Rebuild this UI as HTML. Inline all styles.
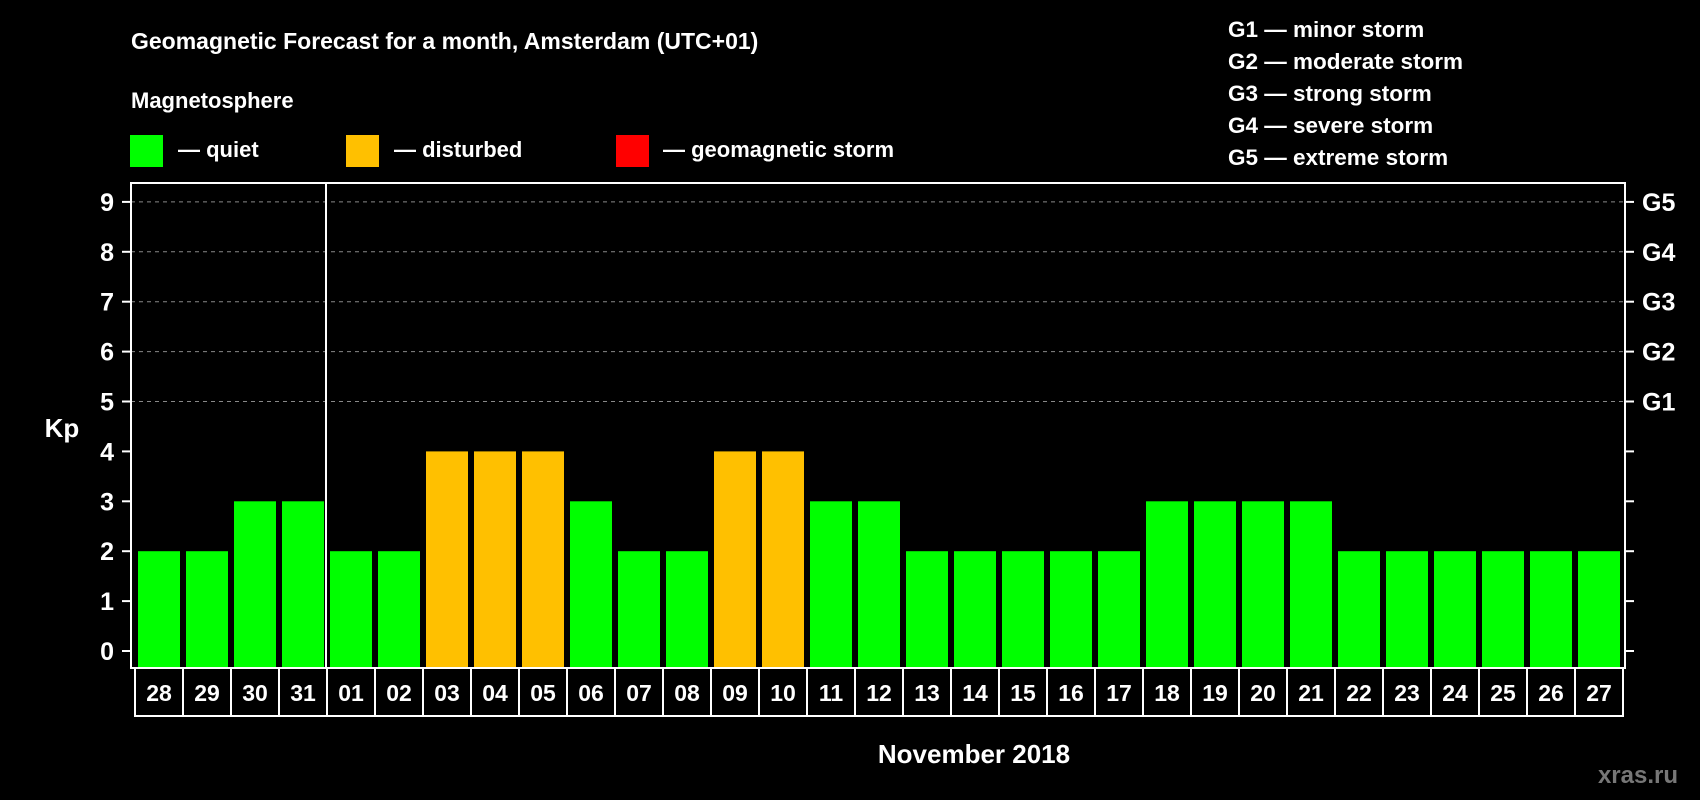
<!DOCTYPE html>
<html><head><meta charset="utf-8"><style>
html,body{margin:0;padding:0;background:#000;}
svg{display:block;font-family:"Liberation Sans",Arial,sans-serif;font-weight:bold;}
</style></head><body>
<svg id="chart" width="1700" height="800" viewBox="0 0 1700 800" xmlns="http://www.w3.org/2000/svg">
<rect width="1700" height="800" fill="#000"/>
<text x="131" y="49" fill="#fff" font-size="23">Geomagnetic Forecast for a month, Amsterdam (UTC+01)</text>
<text x="131" y="108" fill="#fff" font-size="22">Magnetosphere</text>
<rect x="130" y="135" width="33" height="32" fill="#00ff00"/>
<text x="178" y="157" fill="#fff" font-size="22">— quiet</text>
<rect x="346" y="135" width="33" height="32" fill="#ffc000"/>
<text x="394" y="157" fill="#fff" font-size="22">— disturbed</text>
<rect x="616" y="135" width="33" height="32" fill="#ff0000"/>
<text x="663" y="157" fill="#fff" font-size="22">— geomagnetic storm</text>
<g fill="#fff" font-size="22.5">
<text x="1228" y="37">G1 — minor storm</text>
<text x="1228" y="69">G2 — moderate storm</text>
<text x="1228" y="101">G3 — strong storm</text>
<text x="1228" y="133">G4 — severe storm</text>
<text x="1228" y="165">G5 — extreme storm</text>
</g>
<g id="grid"></g>
<g id="bars"></g>
<g id="axes"></g>
<text x="62" y="437" fill="#fff" font-size="26" text-anchor="middle">Kp</text>
<text x="974" y="763" fill="#fff" font-size="26" text-anchor="middle">November 2018</text>
<text x="1678" y="783" fill="#777" font-size="24" text-anchor="end">xras.ru</text>
</svg>
<script>
const days = ["28","29","30","31","01","02","03","04","05","06","07","08","09","10","11","12","13","14","15","16","17","18","19","20","21","22","23","24","25","26","27"];
const kpValues = [2,2,3,3,2,2,4,4,4,3,2,2,4,4,3,3,2,2,2,2,2,3,3,3,3,2,2,2,2,2,2];
const yTicks = [0,1,2,3,4,5,6,7,8,9];
const stormLabels = ["G1","G2","G3","G4","G5"];
const stormLevels = [5,6,7,8,9];

const NS = "http://www.w3.org/2000/svg";
const plotL = 131, plotR = 1625, plotT = 183, plotB = 668;
const cellL = 135, cellW = 48;
const y0 = 651, unit = 49.9;
function yScale(v){ return y0 - v * unit; }
function xScale(i){ return cellL + i * cellW; }
function mk(tag, attrs, parent){ const e = document.createElementNS(NS, tag); for (const k in attrs) e.setAttribute(k, attrs[k]); parent.appendChild(e); return e; }

const grid = document.getElementById('grid');
const bars = document.getElementById('bars');
const axes = document.getElementById('axes');

stormLevels.forEach((lv, i) => {
  const y = yScale(lv);
  const g = mk('line', {x1: plotL, x2: plotR, y1: y, y2: y, stroke: '#888', 'stroke-width': 1, 'stroke-dasharray': '4,4'}, grid);
  
  
  const t = mk('text', {x: 1642, y: y + 9, fill: '#fff', 'font-size': 25}, axes);
  t.textContent = stormLabels[i];
  
  
});

kpValues.forEach((v, i) => {
  const color = v >= 5 ? '#ff0000' : (v >= 4 ? '#ffc000' : '#00ff00');
  const x = xScale(i) + 3;
  const r = mk('rect', {x: x, y: yScale(v), width: 42, height: plotB - 1 - yScale(v), fill: color}, bars);
  
  
  const c = mk('rect', {x: xScale(i), y: plotB, width: cellW, height: 48, fill: 'none', stroke: '#fff', 'stroke-width': 2}, axes);
  
  
  const t = mk('text', {x: xScale(i) + cellW / 2, y: plotB + 33, fill: '#fff', 'font-size': 23, 'text-anchor': 'middle'}, axes);
  t.textContent = days[i];
  
  
});

const frame = mk('rect', {x: plotL, y: plotT, width: plotR - plotL, height: plotB - plotT, fill: 'none', stroke: '#fff', 'stroke-width': 2}, axes);


const monthDiv = mk('line', {x1: xScale(4) - 1, x2: xScale(4) - 1, y1: plotT, y2: plotB, stroke: '#fff', 'stroke-width': 2}, axes);



yTicks.forEach(v => {
  const y = yScale(v);
  const tl = mk('line', {x1: 122, x2: plotL, y1: y, y2: y, stroke: '#fff', 'stroke-width': 2}, axes);
  
  
  const tr = mk('line', {x1: plotR, x2: plotR + 9, y1: y, y2: y, stroke: '#fff', 'stroke-width': 2}, axes);
  
  
  const t = mk('text', {x: 114, y: y + 9, fill: '#fff', 'font-size': 25, 'text-anchor': 'end'}, axes);
  t.textContent = v;
  
  
});
</script>
</body></html>
